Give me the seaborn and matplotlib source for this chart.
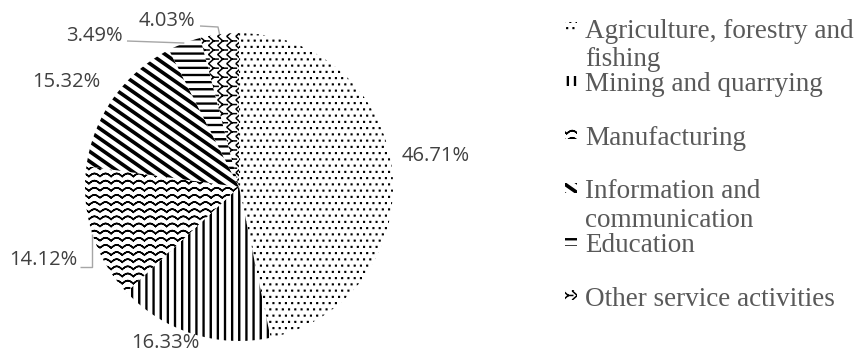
import numpy as np
import matplotlib
matplotlib.use("Agg")
import matplotlib.pyplot as plt
import matplotlib.hatch as mhatch
from matplotlib.path import Path
from matplotlib.patches import Rectangle
import seaborn as sns

# ---------------- data ----------------
categories = ["Agriculture, forestry and\nfishing", "Mining and quarrying", "Manufacturing",
              "Information and\ncommunication", "Education", "Other service activities"]
shares = [46.71, 16.33, 14.12, 15.32, 3.49, 4.03]
pct_labels = [f"{v:.2f}%" for v in shares]
hatches = [".", "|", "*", "\\", "-", "O"]

# ---------------- custom hatch patterns (tile = 1 inch) ----------------
def _segs(segments):
    v, c = [], []
    for x0, y0, x1, y1 in segments:
        v += [(x0, y0), (x1, y1)]
        c += [Path.MOVETO, Path.LINETO]
    return v, c


def _polys(polys):
    v, c = [], []
    for p in polys:
        v += list(p) + [p[0]]
        c += [Path.MOVETO] + [Path.LINETO] * (len(p) - 1) + [Path.CLOSEPOLY]
    return v, c


class _Custom(mhatch.HatchPatternBase):
    char = ""

    def __init__(self, hatch, density):
        if hatch and self.char in hatch:
            v, c = self.build()
        else:
            v, c = [], []
        self._v = np.asarray(v, float).reshape(-1, 2)
        self._c = np.asarray(c, dtype=Path.code_type)
        self.num_vertices = len(self._v)

    def set_vertices_and_codes(self, vertices, codes):
        vertices[:] = self._v
        codes[:] = self._c


class Dots(_Custom):
    char = "."

    def build(self):
        n, h, polys = 16, 0.003, []
        for r in range(n):
            y = (r + 0.5) / n
            off = 0.5 if r % 2 else 0.0
            for k in range(n):
                x = (k + 0.25 + off) / n
                polys.append([(x - h, y - h), (x + h, y - h), (x + h, y + h), (x - h, y + h)])
        return _polys(polys)


class VLines(_Custom):
    char = "|"

    def build(self):
        n, t = 14, 0.004
        polys = []
        for i in range(n):
            x = (i + 0.5) / n
            polys.append([(x - t, 0), (x + t, 0), (x + t, 1), (x - t, 1)])
        return _polys(polys)


class HLines(_Custom):
    char = "-"

    def build(self):
        n, t = 14, 0.004
        polys = []
        for i in range(n):
            y = (i + 0.5) / n
            polys.append([(0, y - t), (1, y - t), (1, y + t), (0, y + t)])
        return _polys(polys)


class Waves(_Custom):
    char = "*"

    def build(self):
        n, m, a = 14, 9, 0.015
        xs = np.linspace(0, 1, m * 8 + 1)
        segs = []
        for r in range(n):
            ys = (r + 0.5) / n + a * np.abs(np.sin(np.pi * m * xs)) * 2 - a
            for j in range(len(xs) - 1):
                segs.append((xs[j], ys[j], xs[j + 1], ys[j + 1]))
        return _segs(segs)


class Diag(_Custom):
    char = "\\"

    def build(self):
        n, k, t = 10, 7 / 10, 0.026
        polys = []
        for mm in range(-1, n + 9):
            y0 = mm / n
            polys.append([(0, y0), (1, y0 - k), (1, y0 - k + t), (0, y0 + t)])
        return _polys(polys)


class Chevrons(_Custom):
    char = "O"

    def build(self):
        n = 11
        s = 1 / n
        segs = []
        for i in range(n):
            for j in range(n):
                x0, y0 = i * s, j * s
                xm, ym = x0 + 0.5 * s, y0 + 0.5 * s
                segs += [(x0, y0 + 0.95 * s, xm, ym), (x0, y0 + 0.05 * s, xm, ym), (xm, ym, x0 + s, ym)]
        return _segs(segs)


mhatch._hatch_types = [Dots, VLines, HLines, Waves, Diag, Chevrons]

# ---------------- style ----------------
sns.set_theme(style="white")
plt.rcParams["hatch.linewidth"] = 1.1
plt.rcParams["hatch.color"] = "black"
plt.rcParams["font.family"] = ["Open Sans", "DejaVu Sans"]

W, H = 856, 352
fig = plt.figure(figsize=(W / 100, H / 100), dpi=100)
fig.patch.set_facecolor("white")

cx, cy, R = 239, 187, 154
ax = fig.add_axes([(cx - R) / W, (H - cy - R) / H, 2 * R / W, 2 * R / H])

wedges, _ = ax.pie(shares, startangle=90, counterclock=False, radius=1,
                   colors=["white"] * len(shares),
                   wedgeprops=dict(linewidth=0, edgecolor="black"))
for w, h in zip(wedges, hatches):
    w.set_hatch(h)
ax.set_xlim(-1, 1)
ax.set_ylim(-1, 1)
ax.set_aspect("equal")
ax.axis("off")


def px2d(px, py):
    return ((px - cx) / R, (cy - py) / R)


# label layout (pixel centres of the data labels as placed in the source)
label_px = [(436, 156), (165, 343), (43, 260), (66, 82), (94, 36), (167, 21)]
# leader-line start points / elbows (None = no leader)
leaders = [None, None,
           dict(start=(80, 267), kind="hv"),
           None,
           dict(start=(127, 41), kind="straight"),
           dict(start=(200, 26), kind="elbow", elbow=(218, 27))]

for w, lab, pos, ld in zip(wedges, pct_labels, label_px, leaders):
    tx, ty = px2d(*pos)
    ax.text(tx, ty, lab, ha="center", va="center", fontsize=14.5, color="#404040",
            family=["Open Sans", "DejaVu Sans"], clip_on=False)
    if ld is None:
        continue
    mid = np.deg2rad((w.theta1 + w.theta2) / 2)
    ex, ey = np.cos(mid), np.sin(mid)
    sx, sy = px2d(*ld["start"])
    if ld["kind"] == "hv":
        xs, ys = [sx, ex, ex], [sy, sy, ey]
    elif ld["kind"] == "straight":
        xs, ys = [sx, ex], [sy, ey]
    else:
        bx, by = px2d(*ld["elbow"])
        xs, ys = [sx, bx, ex], [sy, by, ey]
    ax.plot(xs, ys, color="#a6a6a6", lw=1.0, clip_on=False, solid_capstyle="butt")

# ---------------- legend (manual, Excel-like) ----------------
leg_x_marker, leg_x_text = 565, 585
leg_y0, leg_step = 27, 53.6
for i, (cat, h) in enumerate(zip(categories, hatches)):
    y = leg_y0 + leg_step * i
    fig.add_artist(Rectangle((leg_x_marker / W, 1 - (y + 5) / H), 12 / W, 10 / H,
                             transform=fig.transFigure, facecolor="white",
                             edgecolor="black", lw=0, hatch=h))
    fig.text(leg_x_text / W, 1 - (y - 8.5) / H, cat, ha="left", va="top",
             fontsize=19.5, color="#595959", linespacing=1.2,
             family=["Liberation Serif", "DejaVu Serif"])

fig.savefig("out.png", dpi=100, facecolor="white")
